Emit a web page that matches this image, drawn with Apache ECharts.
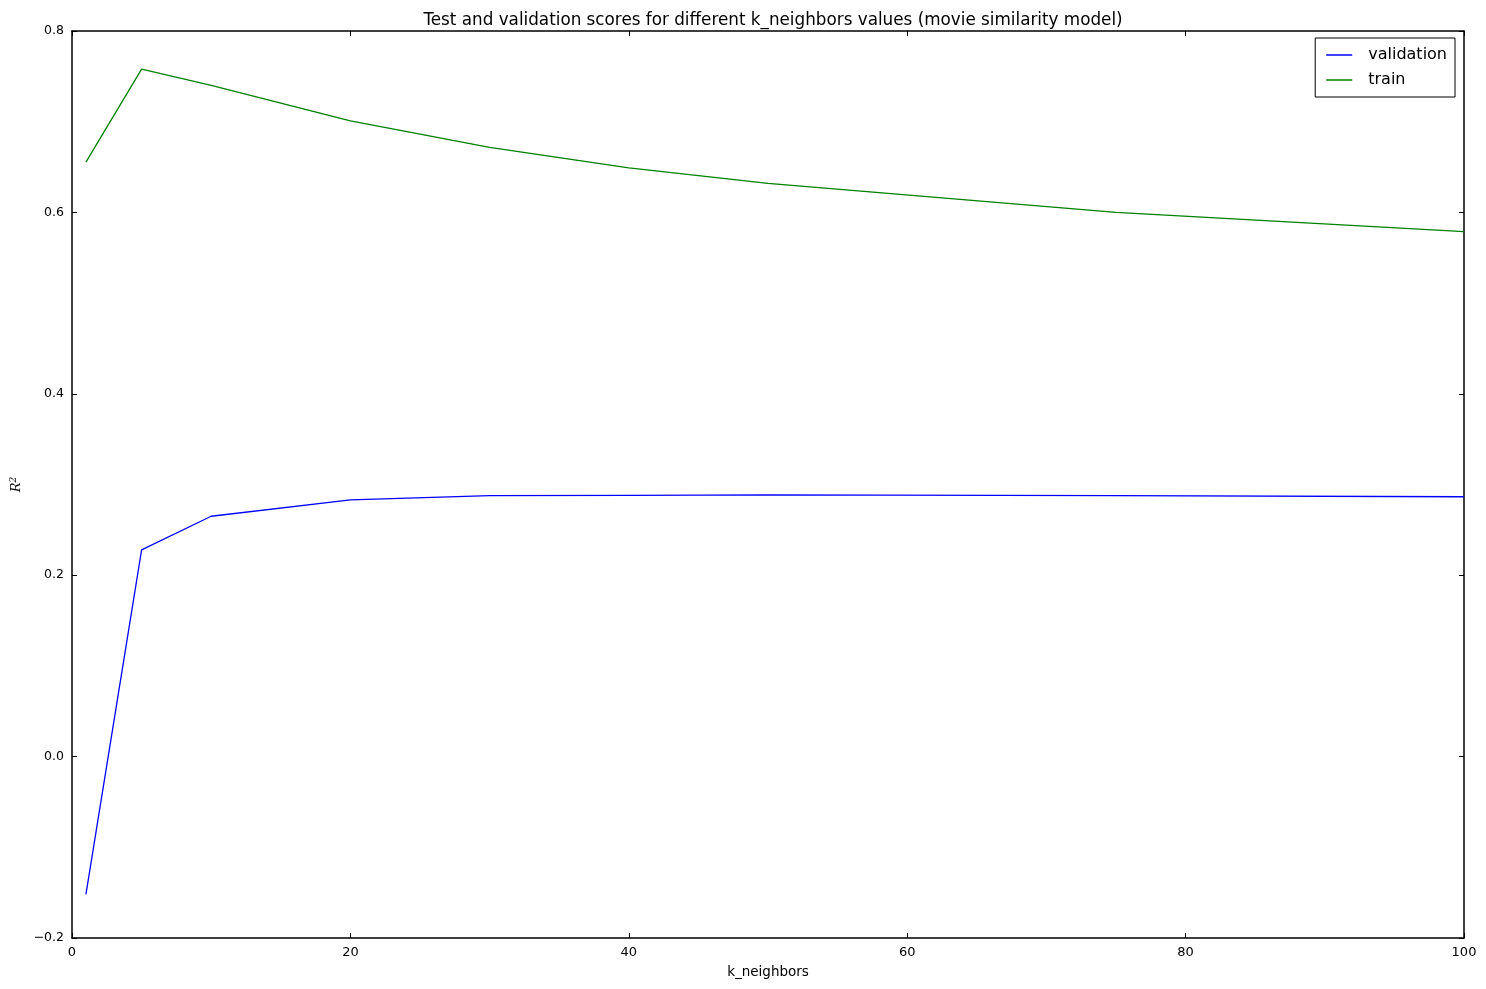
<!DOCTYPE html>
<html style="height: 100%">
<head>
<meta charset="utf-8">
<script src="https://cdn.jsdelivr.net/npm/echarts@6/dist/echarts.min.js"></script>
</head>
<body style="height: 100%; margin: 0; background: #fff">
<div id="container" style="width: 1486px; height: 989px"></div>
<script type="text/javascript">
// k_neighbors values and R^2 scores
var kValues = [1, 5, 10, 20, 30, 40, 50, 75, 100];
var validation = [-0.152, 0.228, 0.265, 0.283, 0.2877, 0.288, 0.2885, 0.2878, 0.2865];
var train = [0.6555, 0.758, 0.740, 0.7008, 0.6718, 0.649, 0.632, 0.600, 0.5787];

function pairs(xs, ys) {
    return xs.map(function (x, i) { return [x, ys[i]]; });
}

var font = 'DejaVu Sans';
var dom = document.getElementById('container');
var myChart = echarts.init(dom);

var tick = { show: true, inside: true, length: 5, lineStyle: { color: '#000', width: 1 } };
var line = { show: true, onZero: false, lineStyle: { color: '#000', width: 1.5 } };

var option = {
    animation: false,
    backgroundColor: '#fff',
    title: {
        text: 'Test and validation scores for different k_neighbors values (movie similarity model)',
        left: 768,
        textAlign: 'center',
        top: 7,
        textStyle: { fontFamily: font, fontSize: 16.8, fontWeight: 'normal', color: '#000' }
    },
    legend: {
        data: ['validation', 'train'],
        orient: 'vertical',
        right: 31,
        top: 38,
        padding: [9, 8, 9, 11],
        itemGap: 9,
        itemWidth: 26,
        itemHeight: 1.5,
        icon: 'rect',
        borderColor: '#000',
        borderWidth: 1,
        borderRadius: 0,
        textStyle: { fontFamily: font, fontSize: 16, color: '#000', padding: [0, 0, 0, 11] }
    },
    grid: { left: 72, right: 22, top: 31, bottom: 51, containLabel: false, outerBoundsMode: 'none' },
    xAxis: [{
        type: 'value',
        min: 0, max: 100, interval: 20,
        name: 'k_neighbors',
        nameLocation: 'middle',
        nameGap: 27,
        nameTextStyle: { fontFamily: font, fontSize: 13.5, color: '#000' },
        axisLine: line,
        axisTick: tick,
        splitLine: { show: false },
        axisLabel: { fontFamily: font, fontSize: 13, color: '#000', margin: 8 }
    }, {
        type: 'value', position: 'top',
        min: 0, max: 100, interval: 20,
        axisLine: line, axisTick: tick,
        splitLine: { show: false }, axisLabel: { show: false }
    }],
    yAxis: [{
        type: 'value',
        min: -0.2, max: 0.8, interval: 0.2,
        name: '{r|R}{s|2}',
        nameLocation: 'middle',
        nameGap: 48,
        nameRotate: 90,
        nameTextStyle: {
            rich: {
                r: { fontFamily: 'DejaVu Serif', fontStyle: 'italic', fontSize: 13, color: '#000' },
                s: { fontFamily: 'DejaVu Serif', fontStyle: 'italic', fontSize: 9, color: '#000', verticalAlign: 'top', padding: [0, 0, 6, 0] }
            }
        },
        axisLine: line,
        axisTick: tick,
        splitLine: { show: false },
        axisLabel: {
            fontFamily: font, fontSize: 12.5, color: '#000', margin: 8,
            formatter: function (v) {
                var s = Math.abs(v) < 1e-9 ? '0.0' : v.toFixed(1);
                return s.replace('-', '\u2212');
            }
        }
    }, {
        type: 'value', position: 'right',
        min: -0.2, max: 0.8, interval: 0.2,
        axisLine: line, axisTick: tick,
        splitLine: { show: false }, axisLabel: { show: false }
    }],
    series: [{
        name: 'validation',
        type: 'line',
        data: pairs(kValues, validation),
        symbol: 'none',
        lineStyle: { color: '#0000ff', width: 1.3 },
        itemStyle: { color: '#0000ff' }
    }, {
        name: 'train',
        type: 'line',
        data: pairs(kValues, train),
        symbol: 'none',
        lineStyle: { color: '#008000', width: 1.3 },
        itemStyle: { color: '#008000' }
    }]
};

myChart.setOption(option);
</script>
</body>
</html>
